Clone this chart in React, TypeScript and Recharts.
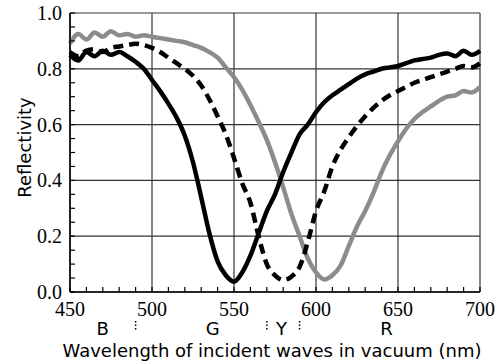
import React from "react";
import {
  CartesianGrid,
  Line,
  LineChart,
  XAxis,
  YAxis,
} from "recharts";

// wavelength samples (nm)
const wavelengths = [
  450, 455, 460, 465, 470, 475, 480, 485, 490, 495, 500, 505, 510, 515, 520,
  525, 530, 535, 540, 545, 550, 555, 560, 565, 570, 575, 580, 585, 590, 595,
  600, 605, 610, 615, 620, 625, 630, 635, 640, 645, 650, 655, 660, 665, 670,
  675, 680, 685, 690, 695, 700,
];

// black solid curve
const solidCurve = [
  0.85, 0.83, 0.86, 0.845, 0.865, 0.85, 0.86, 0.845, 0.825, 0.8, 0.76, 0.72,
  0.675, 0.625, 0.56, 0.465, 0.34, 0.21, 0.11, 0.06, 0.037, 0.07, 0.13, 0.21,
  0.29, 0.35, 0.43, 0.5, 0.565, 0.6, 0.645, 0.68, 0.705, 0.725, 0.745, 0.765,
  0.78, 0.79, 0.8, 0.805, 0.81, 0.82, 0.83, 0.835, 0.84, 0.85, 0.855, 0.845,
  0.865, 0.85, 0.865,
];

// black dashed curve
const dashedCurve = [
  0.86, 0.845, 0.865, 0.87, 0.86, 0.875, 0.88, 0.885, 0.89, 0.885, 0.875,
  0.86, 0.84, 0.82, 0.8, 0.775, 0.74, 0.69, 0.63, 0.565, 0.48, 0.39, 0.32,
  0.2, 0.1, 0.06, 0.043, 0.055, 0.09, 0.18, 0.29, 0.36, 0.45, 0.51, 0.555,
  0.595, 0.63, 0.66, 0.685, 0.705, 0.72, 0.735, 0.75, 0.76, 0.77, 0.78, 0.79,
  0.8, 0.81, 0.805, 0.82,
];

// gray curve
const grayCurve = [
  0.89, 0.925, 0.905, 0.93, 0.915, 0.935, 0.92, 0.925, 0.915, 0.92, 0.915,
  0.91, 0.905, 0.9, 0.895, 0.885, 0.875, 0.86, 0.84, 0.805, 0.77, 0.725, 0.67,
  0.61, 0.545, 0.465, 0.375, 0.28, 0.2, 0.12, 0.07, 0.045, 0.06, 0.095, 0.165,
  0.235, 0.29, 0.355, 0.43, 0.49, 0.54, 0.585, 0.62, 0.645, 0.665, 0.685,
  0.7, 0.705, 0.72, 0.715, 0.735,
];

const xMajorTicks = [450, 500, 550, 600, 650, 700];
const xMinorTicks = [
  450, 460, 470, 480, 490, 500, 510, 520, 530, 540, 550, 560, 570, 580, 590,
  600, 610, 620, 630, 640, 650, 660, 670, 680, 690, 700,
];
const yMajorTicks = [0, 0.2, 0.4, 0.6, 0.8, 1.0];
const yMinorTicks = [
  0, 0.05, 0.1, 0.15, 0.2, 0.25, 0.3, 0.35, 0.4, 0.45, 0.5, 0.55, 0.6, 0.65,
  0.7, 0.75, 0.8, 0.85, 0.9, 0.95, 1.0,
];

// colour bands under the axis
const bandNames = ["B", "G", "Y", "R"];
const bandCenters = [470, 537, 579, 643];
const bandBorders = [490, 570, 590];
const bandTicks = [...bandCenters, ...bandBorders];

const chartData = wavelengths.map((w, i) => ({
  w,
  solid: solidCurve[i],
  dashed: dashedCurve[i],
  gray: grayCurve[i],
}));

const serif = "'Liberation Serif', 'Times New Roman', serif";
const sans = "'DejaVu Sans', Verdana, sans-serif";

const isMajorY = (v: number) => Math.abs(v * 5 - Math.round(v * 5)) < 1e-6;

// bottom tick: short inward tick + label on every 50 nm
const XTick = (props: any) => {
  const { x, y, payload } = props;
  const v = payload.value;
  return (
    <g>
      <path d={`M${x},${y - 10}V${y - 15}`} stroke="#000" strokeWidth={1.2} fill="none" />
      {v % 50 === 0 && (
        <text x={x} y={y + 14} textAnchor="middle" style={{ fontFamily: serif, fontSize: 20 }} fill="#000">
          {v}
        </text>
      )}
    </g>
  );
};

// left tick: short inward tick + label on every 0.2
const YTick = (props: any) => {
  const { x, y, payload } = props;
  const v = payload.value;
  return (
    <g>
      <path d={`M${x + 8},${y}H${x + 13}`} stroke="#000" strokeWidth={1.2} fill="none" />
      {isMajorY(v) && (
        <text x={x} y={y + 7} textAnchor="end" style={{ fontFamily: serif, fontSize: 20 }} fill="#000">
          {v.toFixed(1)}
        </text>
      )}
    </g>
  );
};

const BandTick = (props: any) => {
  const { x, y, payload } = props;
  const v = payload.value;
  if (bandBorders.includes(v)) {
    return (
      <line x1={x} x2={x} y1={y - 1} y2={y + 9} stroke="#000" strokeWidth={1.5} strokeDasharray="1.5 2" />
    );
  }
  const name = bandNames[bandCenters.indexOf(v)];
  return (
    <text x={x} y={y + 13} textAnchor="middle" style={{ fontFamily: sans, fontSize: 18 }} fill="#000">
      {name}
    </text>
  );
};

const XTitle = (props: any) => {
  const { viewBox } = props;
  return (
    <text
      x={viewBox.x + viewBox.width / 2 - 3}
      y={viewBox.y + 41}
      textAnchor="middle"
      style={{ fontFamily: sans, fontSize: 18 }}
      fill="#000"
    >
      Wavelength of incident waves in vacuum (nm)
    </text>
  );
};

const YTitle = (props: any) => {
  const { viewBox } = props;
  const cx = viewBox.x + 31;
  const cy = viewBox.y + viewBox.height / 2 - 5;
  return (
    <text
      x={cx}
      y={cy}
      transform={`rotate(-90, ${cx}, ${cy})`}
      textAnchor="middle"
      style={{ fontFamily: sans, fontSize: 18 }}
      fill="#000"
    >
      Reflectivity
    </text>
  );
};

const App = () => {
  return (
    <div style={{ position: "absolute", left: 0, top: 0, background: "#fff" }}>
      <LineChart
        width={498}
        height={361}
        data={chartData}
        margin={{ top: 13, right: 18, left: 0, bottom: 0 }}
      >
        <CartesianGrid
          xAxisId="a-nm"
          yAxisId="r"
          stroke="#333"
          strokeWidth={1.2}
          horizontalValues={yMajorTicks}
          verticalValues={xMajorTicks}
        />
        <XAxis
          xAxisId="b-band"
          dataKey="w"
          type="number"
          domain={[450, 700]}
          ticks={bandTicks}
          interval={0}
          axisLine={false}
          tickLine={false}
          tickSize={0}
          tickMargin={6}
          tick={BandTick}
          height={45}
          label={{ content: <XTitle /> }}
        />
        <XAxis
          xAxisId="a-nm"
          dataKey="w"
          type="number"
          domain={[450, 700]}
          ticks={xMinorTicks}
          interval={0}
          tickSize={0}
          tickMargin={10}
          axisLine={{ stroke: "#000", strokeWidth: 1.5 }}
          tickLine={false}
          tick={XTick}
          height={24}
        />
        <YAxis
          yAxisId="r"
          type="number"
          domain={[0, 1]}
          ticks={yMinorTicks}
          interval={0}
          tickSize={0}
          tickMargin={8}
          axisLine={{ stroke: "#000", strokeWidth: 1.5 }}
          tickLine={false}
          tick={YTick}
          width={70}
          label={{ content: <YTitle /> }}
        />
        <Line
          xAxisId="a-nm"
          yAxisId="r"
          dataKey="gray"
          type="monotone"
          stroke="#8c8c8c"
          strokeWidth={4.5}
          dot={false}
          isAnimationActive={false}
        />
        <Line
          xAxisId="a-nm"
          yAxisId="r"
          dataKey="dashed"
          type="monotone"
          stroke="#000"
          strokeWidth={4.5}
          strokeDasharray="10 6"
          dot={false}
          isAnimationActive={false}
        />
        <Line
          xAxisId="a-nm"
          yAxisId="r"
          dataKey="solid"
          type="monotone"
          stroke="#000"
          strokeWidth={4.5}
          dot={false}
          isAnimationActive={false}
        />
      </LineChart>
    </div>
  );
};

export default App;
